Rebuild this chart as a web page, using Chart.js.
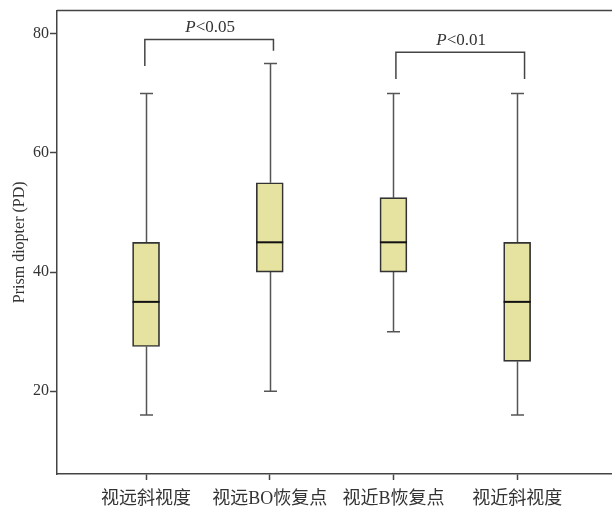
<!DOCTYPE html>
<html>
<head>
<meta charset="utf-8">
<script src="https://cdn.jsdelivr.net/npm/chart.js@4/dist/chart.umd.min.js"></script>
<style>
html,body{margin:0;padding:0;background:#fff;}
#wrap{width:612px;height:511px;}
</style>
</head>
<body>
<div id="wrap"><canvas id="c" width="612" height="511"></canvas></div>
<script>
// ---- data ----
const categories = ['视远斜视度', '视远BO恢复点', '视近B恢复点', '视近斜视度'];
const positions = [1, 2, 3, 4];
const whiskerLow = [16, 20, 30, 16];
const q1 = [27.5, 40, 40, 25];
const median = [35, 45, 45, 35];
const q3 = [45, 55, 52.5, 45];
const whiskerHigh = [70, 75, 70, 70];
const yTicks = [20, 40, 60, 80];
// significance brackets (data units)
const bracketLabels = ['0.05', '0.01'];
const bracketX1 = [0.99, 3.02];
const bracketX2 = [2.03, 4.06];
const bracketTop = [79.05, 76.9];
const bracketLegLeft = [74.6, 72.4];
const bracketLegRight = [77.15, 72.4];

const FONT = '"Liberation Serif", "Noto Sans CJK SC", serif';
const INK = '#333333';
const LINE = '#444444';

const boxPlugin = {
  id: 'boxParts',
  beforeDatasetsDraw(chart) {
    const {ctx, scales: {x, y}} = chart;
    ctx.save();
    ctx.strokeStyle = '#555555';
    ctx.lineWidth = 1.5;
    const capHalf = 6.5;
    positions.forEach((p, i) => {
      const px = Math.round(x.getPixelForValue(p)) + 0.5;
      const yl = y.getPixelForValue(whiskerLow[i]);
      const yh = y.getPixelForValue(whiskerHigh[i]);
      const y1 = y.getPixelForValue(q1[i]);
      const y3 = y.getPixelForValue(q3[i]);
      ctx.beginPath();
      ctx.moveTo(px, yh); ctx.lineTo(px, y3);
      ctx.moveTo(px, y1); ctx.lineTo(px, yl);
      ctx.moveTo(px - capHalf, yh); ctx.lineTo(px + capHalf, yh);
      ctx.moveTo(px - capHalf, yl); ctx.lineTo(px + capHalf, yl);
      ctx.stroke();
    });
    ctx.restore();
  },
  afterDatasetsDraw(chart) {
    const {ctx, scales: {x, y}, chartArea} = chart;
    ctx.save();
    // medians
    ctx.strokeStyle = '#111111';
    ctx.lineWidth = 2;
    const half = 13.5;
    positions.forEach((p, i) => {
      const px = x.getPixelForValue(p);
      const ym = y.getPixelForValue(median[i]);
      ctx.beginPath();
      ctx.moveTo(px - half, ym); ctx.lineTo(px + half, ym);
      ctx.stroke();
    });
    // brackets
    ctx.strokeStyle = '#444444';
    ctx.lineWidth = 1.5;
    bracketLabels.forEach((lab, i) => {
      const xa = x.getPixelForValue(bracketX1[i]);
      const xb = x.getPixelForValue(bracketX2[i]);
      const yt = y.getPixelForValue(bracketTop[i]);
      ctx.beginPath();
      ctx.moveTo(xa, y.getPixelForValue(bracketLegLeft[i]));
      ctx.lineTo(xa, yt);
      ctx.lineTo(xb, yt);
      ctx.lineTo(xb, y.getPixelForValue(bracketLegRight[i]));
      ctx.stroke();
      // label: italic P + "<value"
      const cx = (xa + xb) / 2 + 1;
      const by = yt - 7;
      ctx.fillStyle = INK;
      ctx.textBaseline = 'alphabetic';
      ctx.font = 'italic 17px ' + FONT;
      const wP = ctx.measureText('P').width;
      ctx.font = '17px ' + FONT;
      const rest = '<' + lab;
      const wR = ctx.measureText(rest).width;
      const start = cx - (wP + wR) / 2;
      ctx.font = 'italic 17px ' + FONT;
      ctx.textAlign = 'left';
      ctx.fillText('P', start, by);
      ctx.font = '17px ' + FONT;
      ctx.fillText(rest, start + wP, by);
    });
    // top frame line
    ctx.strokeStyle = LINE;
    ctx.lineWidth = 1.5;
    ctx.beginPath();
    ctx.moveTo(chartArea.left, chartArea.top);
    ctx.lineTo(chart.width, chartArea.top);
    ctx.stroke();
    ctx.restore();
  }
};

new Chart(document.getElementById('c'), {
  type: 'bar',
  data: {
    datasets: [{
      data: positions.map((p, i) => ({x: p, y: [q1[i], q3[i]]})),
      backgroundColor: 'rgb(230,226,160)',
      borderColor: '#333333',
      borderWidth: 1.7,
      borderSkipped: false,
      barThickness: 27
    }]
  },
  plugins: [boxPlugin],
  options: {
    responsive: false,
    animation: false,
    devicePixelRatio: 1,
    layout: {padding: {top: 9.5, left: 0, right: 0, bottom: 0}},
    plugins: {legend: {display: false}, tooltip: {enabled: false}},
    scales: {
      x: {
        type: 'linear',
        offset: false,
        min: 0.28,
        max: 4.767,
        afterBuildTicks(scale) { scale.ticks = positions.map(v => ({value: v})); },
        afterFit(scale) { scale.height = 37; },
        grid: {offset: false, drawOnChartArea: false, tickLength: 6, tickColor: LINE, tickWidth: 1.5},
        border: {color: LINE, width: 1.5},
        ticks: {
          autoSkip: false,
          maxRotation: 0,
          padding: 8,
          color: INK,
          font: {family: FONT, size: 18},
          callback: (v) => categories[positions.indexOf(v)] ?? ''
        }
      },
      y: {
        min: 6.1,
        max: 83.9,
        afterBuildTicks(scale) { scale.ticks = yTicks.map(v => ({value: v})); },
        afterFit(scale) { scale.width = 57; },
        grid: {drawOnChartArea: false, tickLength: 7, tickColor: LINE, tickWidth: 1.5},
        border: {color: LINE, width: 1.5},
        ticks: {padding: 1, color: INK, font: {family: FONT, size: 16}},
        title: {
          display: true,
          text: 'Prism diopter (PD)',
          color: INK,
          font: {family: FONT, size: 16},
          padding: {top: 10, bottom: 0}
        }
      }
    }
  }
});
</script>
</body>
</html>
